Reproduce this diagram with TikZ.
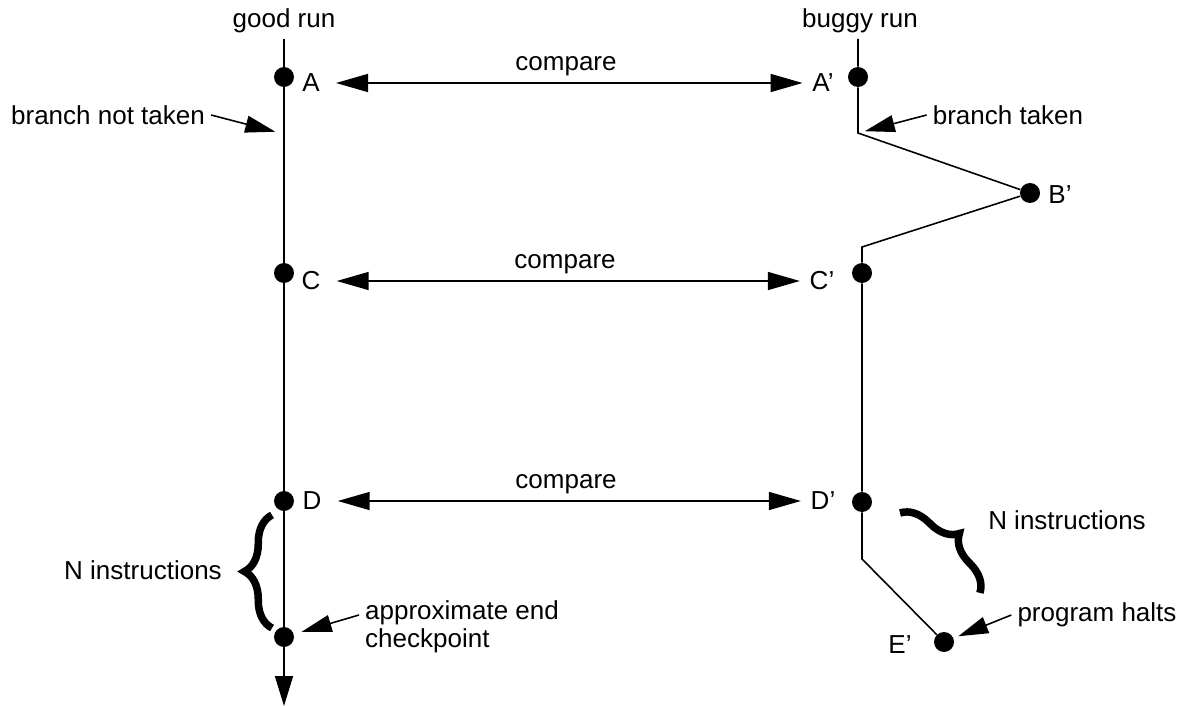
\documentclass[tikz,border=0pt]{standalone}
\usepackage{fontspec}
\setmainfont{Liberation Sans}
\usetikzlibrary{arrows.meta,decorations.pathreplacing,positioning}

\begin{document}
\begin{tikzpicture}[x=0.02cm, y=-0.02cm,
font=\fontsize{14.8pt}{16pt}\selectfont,
dot/.style = {circle, fill=black, inner sep=0pt, minimum size=0.4cm},
lbl/.style = {inner sep=0pt},
line/.style = {draw, line width=0.9pt},
cmparrow/.style = {line, {Triangle[length=0.64cm,width=0.36cm]}-{Triangle[length=0.64cm,width=0.36cm]},
	shorten <=0.32cm, shorten >=0.19cm},
pointer/.style = {line, -{Triangle[length=0.6cm,width=0.34cm]}},
curly/.style = {draw, line width=0.15cm, decorate, decoration={brace, amplitude=0.55cm}}]

\useasboundingbox (0,0) rectangle (1190,706);

% good run
\node (good) at (284,21) {good run};
\coordinate (gtop) at (284,39);
\node [dot] (A) at (284,77) {};
\coordinate (gbranch) at (284,134);
\node [dot] (C) at (284,273) {};
\node [dot] (D) at (284,501) {};
\node [dot] (gend) at (284,637) {};
\coordinate (gbot) at (284,706);

% buggy run
\node (buggy) at (860,21) {buggy run};
\coordinate (btop) at (858,39);
\node [dot] (A2) at (858,77) {};
\coordinate (turn1) at (858,133);
\node [dot] (B2) at (1030,193) {};
\coordinate (turn2) at (862,247);
\node [dot] (C2) at (862,273) {};
\node [dot] (D2) at (862,502) {};
\coordinate (turn3) at (862,559);
\node [dot] (E2) at (944,642) {};

% point labels
\node [lbl] (lA) at (311,83) {A};
\node [lbl] (lA2) at (823,83) {A’};
\node [lbl] (lB2) at (1060,195) {B’};
\node [lbl] (lC) at (311,281) {C};
\node [lbl] (lC2) at (822,281) {C’};
\node [lbl] (lD) at (312,501) {D};
\node [lbl] (lD2) at (823,501) {D’};
\node [lbl] (lE2) at (900,645) {E’};

% notes
\node (notaken) at (108,115) {branch not taken};
\node (taken) at (1008,115) {branch taken};
\node (nleft) at (143,570) {N instructions};
\node (nright) at (1067,520) {N instructions};
\node [anchor=west, align=left] (approx) at (359,627) {approximate end\\checkpoint};
\node (halts) at (1097,615) {program halts};

\path [line] (gtop) -- (A) -- (C) -- (D) -- (gend);
\path [line, -{Triangle[length=0.6cm,width=0.36cm]}] (gend) -- (gbot);
\path [line] (btop) -- (A2) -- (turn1) -- (B2) -- (turn2) -- (C2) -- (D2) -- (turn3) -- (E2);

\path [cmparrow] (lA) -- node [above] {compare} (lA2);
\path [cmparrow] (lC) -- node [above] {compare} (lC2);
\path [cmparrow] (lD) -- node [above] {compare} (lD2);

\path [pointer, shorten >=0.18cm] (notaken.east) -- (gbranch);
\path [pointer, shorten >=0.14cm] (taken.west) -- (turn1);
\path [pointer, shorten >=0.16cm] ([yshift=0.24cm]approx.west) -- (gend);
\path [pointer, shorten >=0.1cm] (halts.west) -- (E2);

\path [curly] (272,628) -- (272,515);
\path [curly] (900,513) -- (980,593);

\end{tikzpicture}
\end{document}
